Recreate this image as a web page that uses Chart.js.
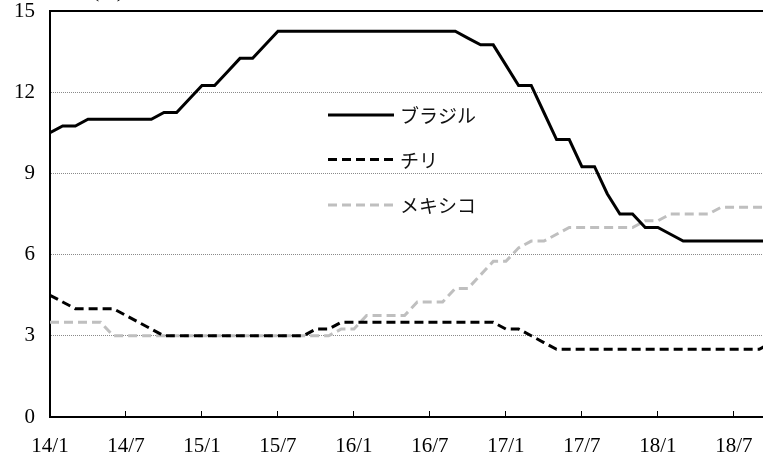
<!DOCTYPE html>
<html lang="ja">
<head>
<meta charset="UTF-8">
<title>政策金利</title>
<style>
  html, body { margin: 0; padding: 0; background: #fff; overflow: hidden; }
  #wrap { width: 763px; height: 455px; }
</style>
</head>
<body>
<div id="wrap"><canvas id="grafico" width="763" height="455"></canvas></div>
<script src="https://cdn.jsdelivr.net/npm/chart.js"></script>
<script>
// 月次 2014/1 - 2018/10
const meses = [
  '14/1','14/2','14/3','14/4','14/5','14/6','14/7','14/8','14/9','14/10','14/11','14/12',
  '15/1','15/2','15/3','15/4','15/5','15/6','15/7','15/8','15/9','15/10','15/11','15/12',
  '16/1','16/2','16/3','16/4','16/5','16/6','16/7','16/8','16/9','16/10','16/11','16/12',
  '17/1','17/2','17/3','17/4','17/5','17/6','17/7','17/8','17/9','17/10','17/11','17/12',
  '18/1','18/2','18/3','18/4','18/5','18/6','18/7','18/8','18/9','18/10'
];
const rotulosX = ['14/1','14/7','15/1','15/7','16/1','16/7','17/1','17/7','18/1','18/7'];
const rotulosY = [0, 3, 6, 9, 12, 15];

const brasil = [
  10.5,10.75,10.75,11,11,11,11,11,11,11.25,11.25,11.75,
  12.25,12.25,12.75,13.25,13.25,13.75,14.25,14.25,14.25,14.25,14.25,14.25,
  14.25,14.25,14.25,14.25,14.25,14.25,14.25,14.25,14.25,14,13.75,13.75,
  13,12.25,12.25,11.25,10.25,10.25,9.25,9.25,8.25,7.5,7.5,7,
  7,6.75,6.5,6.5,6.5,6.5,6.5,6.5,6.5,6.5
];
const chile = [
  4.5,4.25,4,4,4,4,3.75,3.5,3.25,3,3,3,
  3,3,3,3,3,3,3,3,3,3.25,3.25,3.5,
  3.5,3.5,3.5,3.5,3.5,3.5,3.5,3.5,3.5,3.5,3.5,3.5,
  3.25,3.25,3,2.75,2.5,2.5,2.5,2.5,2.5,2.5,2.5,2.5,
  2.5,2.5,2.5,2.5,2.5,2.5,2.5,2.5,2.5,2.75
];
const mexico = [
  3.5,3.5,3.5,3.5,3.5,3,3,3,3,3,3,3,
  3,3,3,3,3,3,3,3,3,3,3,3.25,
  3.25,3.75,3.75,3.75,3.75,4.25,4.25,4.25,4.75,4.75,5.25,5.75,
  5.75,6.25,6.5,6.5,6.75,7,7,7,7,7,7,7.25,
  7.25,7.5,7.5,7.5,7.5,7.75,7.75,7.75,7.75,7.75
];
const nomes = ['ブラジル', 'チリ', 'メキシコ'];

const fonteSerif = "'Liberation Serif', 'DejaVu Serif', serif";
const fonteJP = "'Noto Sans CJK JP', sans-serif";

function pontos(valores) {
  return valores.map((v, i) => ({ x: i, y: v }));
}

// legenda dentro do grafico + "(%)" cortado no topo
const legendaInterna = {
  id: 'legendaInterna',
  afterDatasetsDraw(chart) {
    const ctx = chart.ctx;
    const linhas = [115, 159.5, 205];
    ctx.save();
    chart.data.datasets.forEach((ds, i) => {
      ctx.beginPath();
      ctx.lineWidth = ds.borderWidth;
      ctx.strokeStyle = ds.borderColor;
      ctx.setLineDash(ds.borderDash || []);
      ctx.moveTo(328, linhas[i]);
      ctx.lineTo(394, linhas[i]);
      ctx.stroke();
      ctx.setLineDash([]);
      ctx.fillStyle = '#111';
      ctx.font = '19px ' + fonteJP;
      ctx.textAlign = 'left';
      ctx.textBaseline = 'middle';
      ctx.fillText(nomes[i], 400, linhas[i] + 1);
    });
    ctx.fillStyle = '#000';
    ctx.font = '21px ' + fonteSerif;
    ctx.textAlign = 'center';
    ctx.textBaseline = 'alphabetic';
    ctx.fillText('(%)', 108, -3);
    ctx.restore();
  }
};

new Chart(document.getElementById('grafico'), {
  type: 'line',
  data: {
    datasets: [
      { label: nomes[0], data: pontos(brasil), borderColor: '#000', borderWidth: 3 },
      { label: nomes[1], data: pontos(chile), borderColor: '#000', borderWidth: 3, borderDash: [9, 5] },
      { label: nomes[2], data: pontos(mexico), borderColor: '#bfbfbf', borderWidth: 3, borderDash: [9, 5] }
    ]
  },
  options: {
    responsive: false,
    animation: false,
    layout: { padding: 0 },
    elements: { point: { radius: 0 }, line: { tension: 0, fill: false } },
    plugins: { legend: { display: false }, tooltip: { enabled: false } },
    scales: {
      x: {
        type: 'linear',
        min: 0,
        max: 56.3,
        afterBuildTicks: s => { s.ticks = rotulosX.map(r => ({ value: meses.indexOf(r) })); },
        afterFit: s => { s.height = 38; s.paddingLeft = 0; s.paddingRight = 0; },
        ticks: {
          callback: v => meses[v],
          color: '#000',
          font: { family: fonteSerif, size: 21 },
          padding: 23,
          maxRotation: 0,
          autoSkip: false
        },
        grid: { drawOnChartArea: false, drawTicks: true, tickLength: -6, color: '#000', lineWidth: 1 },
        border: { color: '#000', width: 2 }
      },
      x2: {
        type: 'linear',
        position: 'top',
        min: 0,
        max: 56.3,
        afterFit: s => { s.height = 11; s.paddingLeft = 0; s.paddingRight = 0; },
        ticks: { display: false },
        grid: { display: false, drawTicks: false },
        border: { color: '#000', width: 2 }
      },
      y: {
        min: 0,
        max: 15,
        afterBuildTicks: s => { s.ticks = rotulosY.map(v => ({ value: v })); },
        afterFit: s => { s.width = 50; s.paddingTop = 0; s.paddingBottom = 0; },
        ticks: {
          color: '#000',
          font: { family: fonteSerif, size: 21 },
          padding: 15
        },
        grid: {
          drawTicks: false,
          color: c => (c.tick.value > 0 && c.tick.value < 15) ? '#8a8a8a' : 'rgba(0,0,0,0)',
          lineWidth: 1
        },
        border: { color: '#000', width: 2, dash: [1, 1] }
      }
    }
  },
  plugins: [legendaInterna]
});
</script>
</body>
</html>
